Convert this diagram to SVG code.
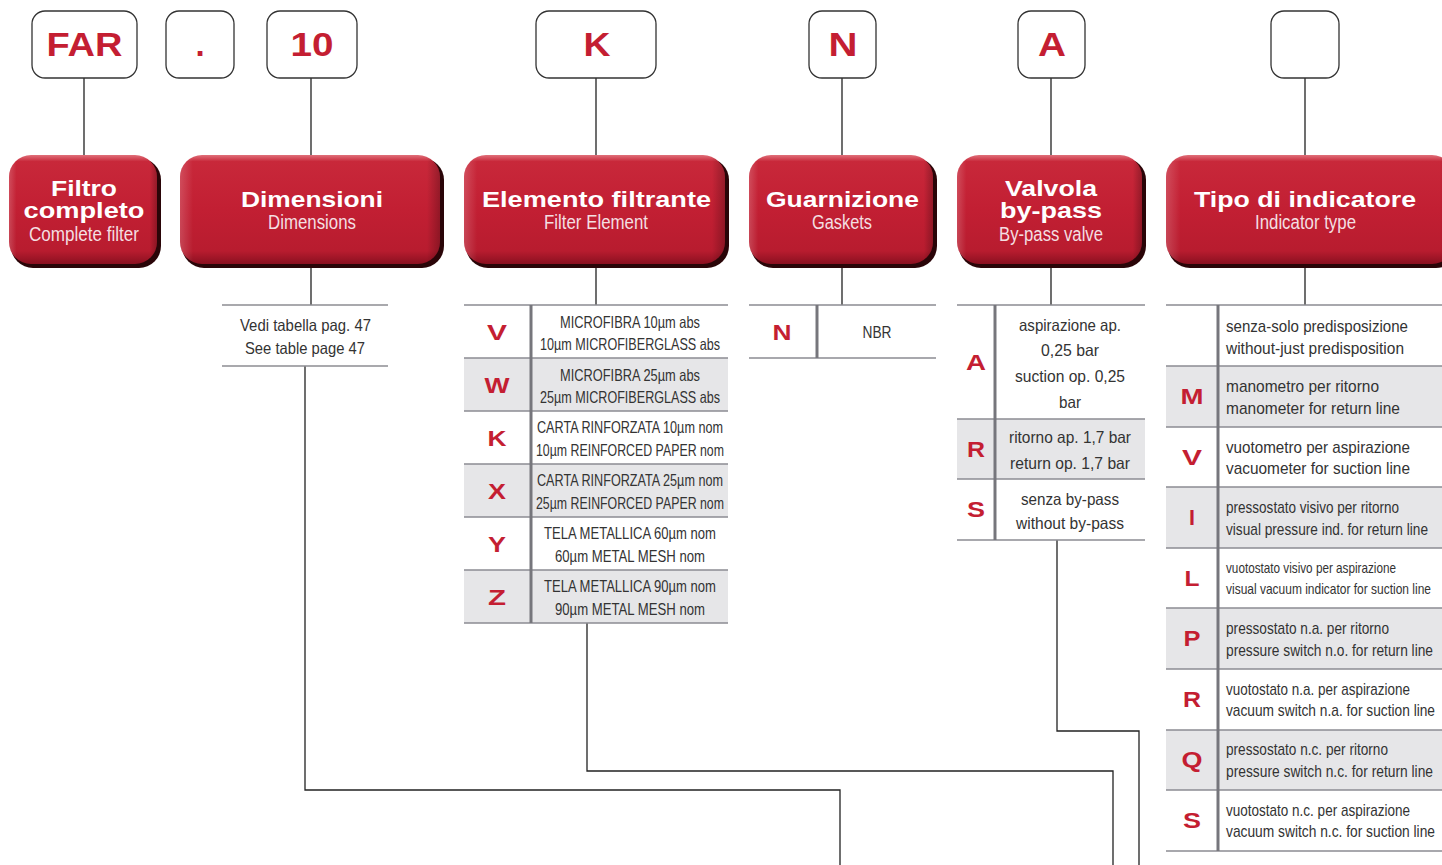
<svg xmlns="http://www.w3.org/2000/svg" width="1442" height="865" viewBox="0 0 1442 865">
<defs>
<linearGradient id="rg" x1="0" y1="0" x2="0" y2="1">
<stop offset="0" stop-color="#e0707a"/>
<stop offset="0.06" stop-color="#c8283a"/>
<stop offset="0.5" stop-color="#c21f33"/>
<stop offset="0.88" stop-color="#b81c2f"/>
<stop offset="1" stop-color="#8a1020"/>
</linearGradient>
<linearGradient id="rgh" x1="0" y1="0" x2="1" y2="0">
<stop offset="0" stop-color="#ffffff" stop-opacity="0.18"/>
<stop offset="0.05" stop-color="#ffffff" stop-opacity="0"/>
<stop offset="0.95" stop-color="#000000" stop-opacity="0"/>
<stop offset="1" stop-color="#000000" stop-opacity="0.25"/>
</linearGradient>
</defs>
<style>
.code{fill:#fff;stroke:#333;stroke-width:1.3}
.codet{font-family:"Liberation Sans",Arial,sans-serif;font-weight:bold;font-size:33px;fill:#c41e32;text-anchor:middle}
.shadow{fill:#2a0508}
.red{fill:url(#rg)}
.redh{fill:url(#rgh)}
.tb{font-family:"Liberation Sans",Arial,sans-serif;font-weight:bold;font-size:22px;fill:#fff;text-anchor:middle}
.ts{font-family:"Liberation Sans",Arial,sans-serif;font-size:20px;fill:#f4dfe1;text-anchor:middle}
.ln{stroke:#222;stroke-width:1.3;fill:none}
.rule{stroke:#8c8c92;stroke-width:1.6}
.sep{stroke:#76767c;stroke-width:3}
.shade{fill:#e6e6e8}
.k{font-family:"Liberation Sans",Arial,sans-serif;font-weight:bold;font-size:22px;fill:#c41e32;text-anchor:middle}
.t{font-family:"Liberation Sans",Arial,sans-serif;font-size:16.5px;fill:#333;text-anchor:middle}
.tl{font-family:"Liberation Sans",Arial,sans-serif;font-size:17px;fill:#333}
</style>

<g id="connectors">
<path class="ln" d="M84 78V155M311 78V155M596 78V155M842 78V155M1051 78V155M1305 78V155"/>
<path class="ln" d="M311 267V305M596 267V305M842 267V305M1051 267V305M1305 267V305"/>
<path class="ln" d="M305 366V790H840V865"/>
<path class="ln" d="M587 623V771H1113V865"/>
<path class="ln" d="M1057 540V731H1139V865"/>
</g>

<g id="code-FAR"><rect class="code" x="32" y="11" width="105" height="67" rx="13"/><text class="codet" x="84.5" y="56" textLength="76" lengthAdjust="spacingAndGlyphs">FAR</text></g>
<g id="code-dot"><rect class="code" x="166" y="11" width="68" height="67" rx="13"/><text class="codet" x="200" y="56">.</text></g>
<g id="code-10"><rect class="code" x="267" y="11" width="90" height="67" rx="13"/><text class="codet" x="312" y="56" textLength="43" lengthAdjust="spacingAndGlyphs">10</text></g>
<g id="code-K"><rect class="code" x="536" y="11" width="120" height="67" rx="13"/><text class="codet" x="597" y="56" textLength="27" lengthAdjust="spacingAndGlyphs">K</text></g>
<g id="code-N"><rect class="code" x="809" y="11" width="67" height="67" rx="13"/><text class="codet" x="843" y="56" textLength="29" lengthAdjust="spacingAndGlyphs">N</text></g>
<g id="code-A"><rect class="code" x="1018" y="11" width="67" height="67" rx="13"/><text class="codet" x="1052" y="56" textLength="28" lengthAdjust="spacingAndGlyphs">A</text></g>
<g id="code-blank"><rect class="code" x="1271" y="11" width="68" height="67" rx="13"/></g>

<g id="hdr-filtro">
<rect class="shadow" x="11" y="158" width="150" height="110" rx="22"/>
<rect class="red" x="9" y="155" width="148" height="109" rx="22"/>
<rect class="redh" x="9" y="155" width="148" height="109" rx="22"/>
<text class="tb" x="84" y="196" textLength="66" lengthAdjust="spacingAndGlyphs">Filtro</text>
<text class="tb" x="84" y="218" textLength="121" lengthAdjust="spacingAndGlyphs">completo</text>
<text class="ts" x="84" y="241" textLength="110" lengthAdjust="spacingAndGlyphs">Complete filter</text>
</g>
<g id="hdr-dimensioni">
<rect class="shadow" x="182" y="158" width="262" height="110" rx="22"/>
<rect class="red" x="180" y="155" width="260" height="109" rx="22"/>
<rect class="redh" x="180" y="155" width="260" height="109" rx="22"/>
<text class="tb" x="312" y="207" textLength="142" lengthAdjust="spacingAndGlyphs">Dimensioni</text>
<text class="ts" x="312" y="229" textLength="88" lengthAdjust="spacingAndGlyphs">Dimensions</text>
</g>
<g id="hdr-elemento">
<rect class="shadow" x="466" y="158" width="263" height="110" rx="22"/>
<rect class="red" x="464" y="155" width="261" height="109" rx="22"/>
<rect class="redh" x="464" y="155" width="261" height="109" rx="22"/>
<text class="tb" x="596.5" y="207" textLength="229" lengthAdjust="spacingAndGlyphs">Elemento filtrante</text>
<text class="ts" x="596" y="229" textLength="104" lengthAdjust="spacingAndGlyphs">Filter Element</text>
</g>
<g id="hdr-guarnizione">
<rect class="shadow" x="751" y="158" width="186" height="110" rx="22"/>
<rect class="red" x="749" y="155" width="184" height="109" rx="22"/>
<rect class="redh" x="749" y="155" width="184" height="109" rx="22"/>
<text class="tb" x="842.5" y="207" textLength="153" lengthAdjust="spacingAndGlyphs">Guarnizione</text>
<text class="ts" x="842" y="229" textLength="60" lengthAdjust="spacingAndGlyphs">Gaskets</text>
</g>
<g id="hdr-valvola">
<rect class="shadow" x="959" y="158" width="187" height="110" rx="22"/>
<rect class="red" x="957" y="155" width="185" height="109" rx="22"/>
<rect class="redh" x="957" y="155" width="185" height="109" rx="22"/>
<text class="tb" x="1051" y="196" textLength="92" lengthAdjust="spacingAndGlyphs">Valvola</text>
<text class="tb" x="1051" y="218" textLength="102" lengthAdjust="spacingAndGlyphs">by-pass</text>
<text class="ts" x="1051" y="241" textLength="104" lengthAdjust="spacingAndGlyphs">By-pass valve</text>
</g>
<g id="hdr-tipo">
<rect class="shadow" x="1168" y="158" width="290" height="110" rx="22"/>
<rect class="red" x="1166" y="155" width="288" height="109" rx="22"/>
<rect class="redh" x="1166" y="155" width="288" height="109" rx="22"/>
<text class="tb" x="1305" y="207" textLength="222" lengthAdjust="spacingAndGlyphs">Tipo di indicatore</text>
<text class="ts" x="1305.5" y="229" textLength="101" lengthAdjust="spacingAndGlyphs">Indicator type</text>
</g>

<g id="tbl-dimensioni">
<line class="rule" x1="222" y1="305" x2="388" y2="305"/>
<line class="rule" x1="222" y1="366" x2="388" y2="366"/>
<text class="t" x="305.5" y="331" textLength="131" lengthAdjust="spacingAndGlyphs">Vedi tabella pag. 47</text>
<text class="t" x="305" y="354" textLength="120" lengthAdjust="spacingAndGlyphs">See table page 47</text>
</g>

<g id="tbl-elemento">
<rect class="shade" x="464" y="358" width="264" height="53"/>
<rect class="shade" x="464" y="464" width="264" height="53"/>
<rect class="shade" x="464" y="570" width="264" height="53"/>
<path class="rule" d="M464 305H728M464 358H728M464 411H728M464 464H728M464 517H728M464 570H728M464 623H728"/>
<line class="sep" x1="531" y1="305" x2="531" y2="623"/>
<text class="k" x="497" y="340" textLength="20" lengthAdjust="spacingAndGlyphs">V</text>
<text class="k" x="497" y="393" textLength="25" lengthAdjust="spacingAndGlyphs">W</text>
<text class="k" x="497" y="446" textLength="19" lengthAdjust="spacingAndGlyphs">K</text>
<text class="k" x="497" y="499" textLength="18" lengthAdjust="spacingAndGlyphs">X</text>
<text class="k" x="497" y="552" textLength="18" lengthAdjust="spacingAndGlyphs">Y</text>
<text class="k" x="497" y="605" textLength="18" lengthAdjust="spacingAndGlyphs">Z</text>
<text class="t" x="630" y="328" textLength="140" lengthAdjust="spacingAndGlyphs">MICROFIBRA 10µm abs</text>
<text class="t" x="630" y="350" textLength="180" lengthAdjust="spacingAndGlyphs">10µm MICROFIBERGLASS abs</text>
<text class="t" x="630" y="381" textLength="140" lengthAdjust="spacingAndGlyphs">MICROFIBRA 25µm abs</text>
<text class="t" x="630" y="403" textLength="180" lengthAdjust="spacingAndGlyphs">25µm MICROFIBERGLASS abs</text>
<text class="t" x="630" y="433" textLength="186" lengthAdjust="spacingAndGlyphs">CARTA RINFORZATA 10µm nom</text>
<text class="t" x="630" y="456" textLength="188" lengthAdjust="spacingAndGlyphs">10µm REINFORCED PAPER nom</text>
<text class="t" x="630" y="486" textLength="186" lengthAdjust="spacingAndGlyphs">CARTA RINFORZATA 25µm nom</text>
<text class="t" x="630" y="509" textLength="188" lengthAdjust="spacingAndGlyphs">25µm REINFORCED PAPER nom</text>
<text class="t" x="630" y="539" textLength="172" lengthAdjust="spacingAndGlyphs">TELA METALLICA 60µm nom</text>
<text class="t" x="630" y="562" textLength="150" lengthAdjust="spacingAndGlyphs">60µm METAL MESH nom</text>
<text class="t" x="630" y="592" textLength="172" lengthAdjust="spacingAndGlyphs">TELA METALLICA 90µm nom</text>
<text class="t" x="630" y="615" textLength="150" lengthAdjust="spacingAndGlyphs">90µm METAL MESH nom</text>
</g>

<g id="tbl-guarnizione">
<path class="rule" d="M749 305H936M749 358H936"/>
<line class="sep" x1="817" y1="305" x2="817" y2="358"/>
<text class="k" x="782" y="340" textLength="19" lengthAdjust="spacingAndGlyphs">N</text>
<text class="t" x="877" y="338" textLength="29" lengthAdjust="spacingAndGlyphs">NBR</text>
</g>

<g id="tbl-valvola">
<rect class="shade" x="957" y="419" width="188" height="60"/>
<path class="rule" d="M957 305H1145M957 419H1145M957 479H1145M957 540H1145"/>
<line class="sep" x1="995" y1="305" x2="995" y2="540"/>
<text class="k" x="976" y="370" textLength="20" lengthAdjust="spacingAndGlyphs">A</text>
<text class="k" x="976" y="457" textLength="18" lengthAdjust="spacingAndGlyphs">R</text>
<text class="k" x="976" y="517" textLength="18" lengthAdjust="spacingAndGlyphs">S</text>
<text class="t" x="1070" y="331" textLength="102" lengthAdjust="spacingAndGlyphs">aspirazione ap.</text>
<text class="t" x="1070" y="356" textLength="58" lengthAdjust="spacingAndGlyphs">0,25 bar</text>
<text class="t" x="1070" y="382" textLength="110" lengthAdjust="spacingAndGlyphs">suction op. 0,25</text>
<text class="t" x="1070" y="408" textLength="22" lengthAdjust="spacingAndGlyphs">bar</text>
<text class="t" x="1070" y="443" textLength="122" lengthAdjust="spacingAndGlyphs">ritorno ap. 1,7 bar</text>
<text class="t" x="1070" y="469" textLength="120" lengthAdjust="spacingAndGlyphs">return op. 1,7 bar</text>
<text class="t" x="1070" y="505" textLength="98" lengthAdjust="spacingAndGlyphs">senza by-pass</text>
<text class="t" x="1070" y="529" textLength="108" lengthAdjust="spacingAndGlyphs">without by-pass</text>
</g>

<g id="tbl-indicatore">
<rect class="shade" x="1166" y="366" width="276" height="61"/>
<rect class="shade" x="1166" y="487" width="276" height="61"/>
<rect class="shade" x="1166" y="608" width="276" height="61"/>
<rect class="shade" x="1166" y="730" width="276" height="60"/>
<path class="rule" d="M1166 305H1442M1166 366H1442M1166 427H1442M1166 487H1442M1166 548H1442M1166 608H1442M1166 669H1442M1166 730H1442M1166 790H1442M1166 851H1442"/>
<line class="sep" x1="1218" y1="305" x2="1218" y2="851"/>
<text class="k" x="1192" y="404" textLength="23" lengthAdjust="spacingAndGlyphs">M</text>
<text class="k" x="1192" y="465" textLength="20" lengthAdjust="spacingAndGlyphs">V</text>
<text class="k" x="1192" y="525" textLength="6" lengthAdjust="spacingAndGlyphs">I</text>
<text class="k" x="1192" y="586" textLength="15" lengthAdjust="spacingAndGlyphs">L</text>
<text class="k" x="1192" y="646" textLength="17" lengthAdjust="spacingAndGlyphs">P</text>
<text class="k" x="1192" y="707" textLength="18" lengthAdjust="spacingAndGlyphs">R</text>
<text class="k" x="1192" y="767" textLength="21" lengthAdjust="spacingAndGlyphs">Q</text>
<text class="k" x="1192" y="828" textLength="18" lengthAdjust="spacingAndGlyphs">S</text>
<text class="tl" x="1226" y="332" textLength="182" lengthAdjust="spacingAndGlyphs">senza-solo predisposizione</text>
<text class="tl" x="1226" y="354" textLength="178" lengthAdjust="spacingAndGlyphs">without-just predisposition</text>
<text class="tl" x="1226" y="392" textLength="153" lengthAdjust="spacingAndGlyphs">manometro per ritorno</text>
<text class="tl" x="1226" y="414" textLength="174" lengthAdjust="spacingAndGlyphs">manometer for return line</text>
<text class="tl" x="1226" y="453" textLength="184" lengthAdjust="spacingAndGlyphs">vuotometro per aspirazione</text>
<text class="tl" x="1226" y="474" textLength="184" lengthAdjust="spacingAndGlyphs">vacuometer for suction line</text>
<text class="tl" x="1226" y="513" textLength="173" lengthAdjust="spacingAndGlyphs">pressostato visivo per ritorno</text>
<text class="tl" x="1226" y="535" textLength="202" lengthAdjust="spacingAndGlyphs">visual pressure ind. for return line</text>
<text class="tl" x="1226" y="573" style="font-size:15px" textLength="170" lengthAdjust="spacingAndGlyphs">vuotostato visivo per aspirazione</text>
<text class="tl" x="1226" y="594" style="font-size:15px" textLength="205" lengthAdjust="spacingAndGlyphs">visual vacuum indicator for suction line</text>
<text class="tl" x="1226" y="634" textLength="163" lengthAdjust="spacingAndGlyphs">pressostato n.a. per ritorno</text>
<text class="tl" x="1226" y="656" textLength="207" lengthAdjust="spacingAndGlyphs">pressure switch n.o. for return line</text>
<text class="tl" x="1226" y="695" textLength="184" lengthAdjust="spacingAndGlyphs">vuotostato n.a. per aspirazione</text>
<text class="tl" x="1226" y="716" textLength="209" lengthAdjust="spacingAndGlyphs">vacuum switch n.a. for suction line</text>
<text class="tl" x="1226" y="755" textLength="162" lengthAdjust="spacingAndGlyphs">pressostato n.c. per ritorno</text>
<text class="tl" x="1226" y="777" textLength="207" lengthAdjust="spacingAndGlyphs">pressure switch n.c. for return line</text>
<text class="tl" x="1226" y="816" textLength="184" lengthAdjust="spacingAndGlyphs">vuotostato n.c. per aspirazione</text>
<text class="tl" x="1226" y="837" textLength="209" lengthAdjust="spacingAndGlyphs">vacuum switch n.c. for suction line</text>
</g>
</svg>
